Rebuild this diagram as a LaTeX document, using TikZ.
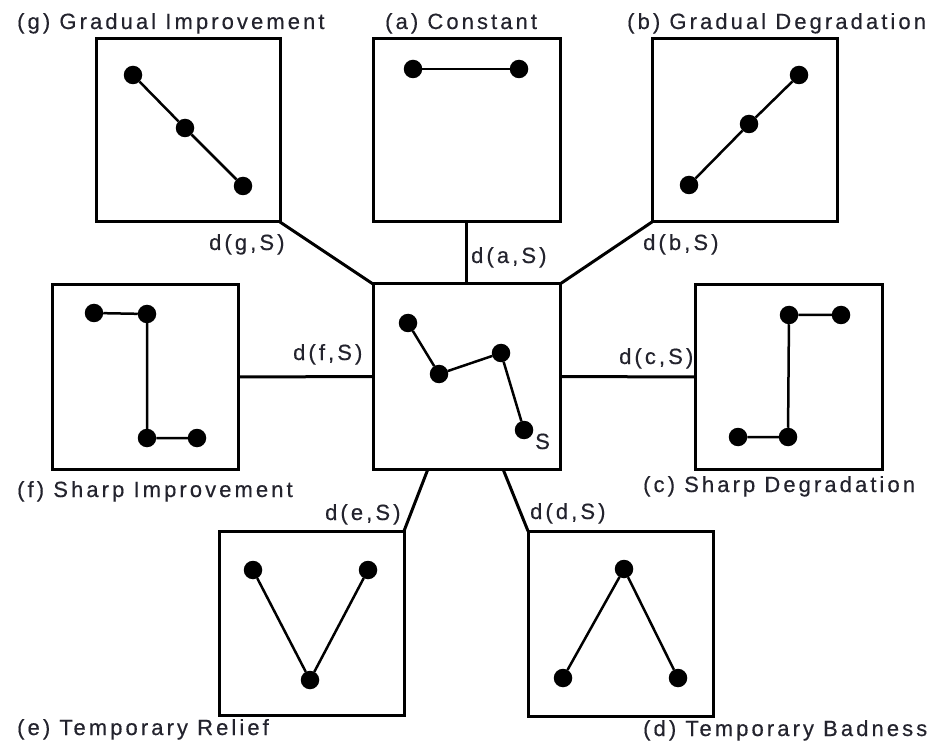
\documentclass[tikz,border=0pt]{standalone}
\usepackage{fontspec}
\usetikzlibrary{calc}
\newfontfamily\labfont{Liberation Sans}[LetterSpace=14,FakeBold=0.4]
\definecolor{txt}{RGB}{35,35,45}
\begin{document}
\begin{tikzpicture}[x=1pt,y=-1pt]
\tikzset{
 box/.style={draw, line width=3pt, rectangle, inner sep=0pt, outer sep=0pt},
 dot/.style={circle, fill, inner sep=0pt, outer sep=0pt, minimum size=18.5pt},
 trend/.style={line width=2.5pt},
 conn/.style={line width=3pt},
 lab/.style={font=\labfont\fontsize{22}{26}\selectfont, text=txt, inner sep=0pt, anchor=base west},
}
\useasboundingbox[fill=white] (0,0) rectangle (932,743);
% boxes
\node[box, minimum width=184pt, minimum height=183pt] (g) at (188,130.5) {};
\node[box, minimum width=187pt, minimum height=183pt] (a) at (466.5,130.5) {};
\node[box, minimum width=185pt, minimum height=183pt] (b) at (744.5,130.5) {};
\node[box, minimum width=187pt, minimum height=185pt] (S) at (466.5,376.5) {};
\node[box, minimum width=186pt, minimum height=184pt] (f) at (145,377) {};
\node[box, minimum width=187pt, minimum height=184pt] (c) at (788.5,377) {};
\node[box, minimum width=185pt, minimum height=184pt] (e) at (311.5,623) {};
\node[box, minimum width=185pt, minimum height=185pt] (d) at (620.5,623.5) {};
% connectors
\coordinate (Se) at ($(S.south west)!0.294!(S.south east)$);
\coordinate (Sd) at ($(S.south west)!0.695!(S.south east)$);
\draw[conn] (g.south east) -- (S.north west);
\draw[conn] (a.south) -- (S.north);
\draw[conn] (b.south west) -- (S.north east);
\draw[conn] (f.east) -- (S.west);
\draw[conn] (S.east) -- (c.west);
\draw[conn] (e.north east) -- (Se);
\draw[conn] (Sd) -- (d.north west);
% dots g
\node[dot] (g1) at (133,75) {};
\node[dot] (g2) at (185,128) {};
\node[dot] (g3) at (243,186) {};
\draw[trend] (g1) -- (g2) -- (g3);
% a
\node[dot] (a1) at (413,69) {};
\node[dot] (a2) at (519,69) {};
\draw[trend] (a1) -- (a2);
% b
\node[dot] (b1) at (689,185) {};
\node[dot] (b2) at (749,124) {};
\node[dot] (b3) at (799,75) {};
\draw[trend] (b1) -- (b2) -- (b3);
% f
\node[dot] (f1) at (94,313) {};
\node[dot] (f2) at (147,314) {};
\node[dot] (f3) at (147,438) {};
\node[dot] (f4) at (197,438) {};
\draw[trend] (f1) -- (f2) -- (f3) -- (f4);
% c
\node[dot] (c1) at (738,437) {};
\node[dot] (c2) at (788,437) {};
\node[dot] (c3) at (789,315) {};
\node[dot] (c4) at (841,315) {};
\draw[trend] (c1) -- (c2) -- (c3) -- (c4);
% S
\node[dot] (s1) at (408,323) {};
\node[dot] (s2) at (439,374) {};
\node[dot] (s3) at (501,353) {};
\node[dot] (s4) at (524,430) {};
\draw[trend] (s1) -- (s2) -- (s3) -- (s4);
% e
\node[dot] (e1) at (253,570) {};
\node[dot] (e2) at (310,680) {};
\node[dot] (e3) at (368,570) {};
\draw[trend] (e1) -- (e2) -- (e3);
% d
\node[dot] (d1) at (563,678) {};
\node[dot] (d2) at (624,569) {};
\node[dot] (d3) at (678,678) {};
\draw[trend] (d1) -- (d2) -- (d3);
% titles
\node[lab] (tg) at (17,29) {(g) Gradual Improvement};
\node[lab] (ta) at (385,29) {(a) Constant};
\node[lab] (tb) at (627,29) {(b) Gradual Degradation};
\node[lab] (tf) at (17,497) {(f) Sharp Improvement};
\node[lab] (tc) at (643,492) {(c) Sharp Degradation};
\node[lab] (te) at (17,735) {(e) Temporary Relief};
\node[lab] (td) at (643,736) {(d) Temporary Badness};
% distance labels
\node[lab] (lg) at (209,250) {d(g,S)};
\node[lab] (la) at (471,263) {d(a,S)};
\node[lab] (lb) at (643,250) {d(b,S)};
\node[lab] (lf) at (293,360) {d(f,S)};
\node[lab] (lc) at (619,364) {d(c,S)};
\node[lab] (le) at (325,520) {d(e,S)};
\node[lab] (ld) at (530,519) {d(d,S)};
\node[lab] (ls) at (535,449) {S};
\end{tikzpicture}
\end{document}
